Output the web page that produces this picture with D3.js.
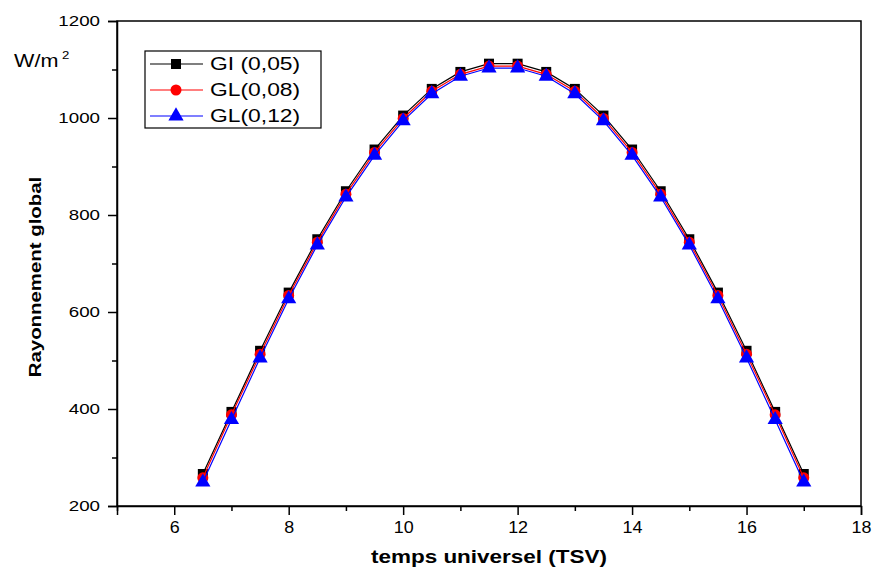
<!DOCTYPE html>
<html>
<head>
<meta charset="utf-8">
<script src="https://cdn.jsdelivr.net/npm/d3@7"></script>
<style>
  body { margin: 0; background: #fff; }
  text { font-family: "Liberation Sans", Arial, sans-serif; fill: #000; }
</style>
</head>
<body>
<div id="chart"></div>
<script>
// Rayonnement global vs temps (TSV) for three turbidity values

const hours = [6.5, 7, 7.5, 8, 8.5, 9, 9.5, 10, 10.5, 11, 11.5, 12, 12.5, 13, 13.5, 14, 14.5, 15, 15.5, 16, 16.5, 17];
const gl005 = [266, 394, 520, 640, 750, 849, 935, 1005, 1060, 1095, 1112, 1112, 1095, 1060, 1005, 935, 849, 750, 640, 520, 394, 266];
const gl008 = [258, 388, 513, 634, 744, 843, 929, 999, 1055, 1090, 1107, 1107, 1090, 1055, 999, 929, 843, 744, 634, 513, 388, 258];
const gl012 = [249, 378, 505, 627, 738, 837, 923, 994, 1050, 1086, 1103, 1103, 1086, 1050, 994, 923, 837, 738, 627, 505, 378, 249];
const seriesNames = ["GI (0,05)", "GL(0,08)", "GL(0,12)"];
const xTicks = [6, 8, 10, 12, 14, 16, 18];
const xMinor = [5, 7, 9, 11, 13, 15, 17];
const yTicks = [200, 400, 600, 800, 1000, 1200];
const yMinor = [300, 500, 700, 900, 1100];

const W = 872, H = 572;
const margin = { top: 21, right: 11, bottom: 66, left: 117 };
const width = W - margin.left - margin.right;
const height = H - margin.top - margin.bottom;

const svg = d3.select("#chart").append("svg")
    .attr("width", W)
    .attr("height", H);

const g = svg.append("g")
    .attr("transform", `translate(${margin.left},${margin.top})`);

const x = d3.scaleLinear().domain([5, 18]).range([0, width]);
const y = d3.scaleLinear().domain([200, 1200]).range([height, 0]);

// stretch text horizontally like the original export
function stretch(sel, sx) {
    sel.each(function () {
        const t = d3.select(this);
        const tx = +t.attr("x") || 0;
        t.attr("x", tx / sx).attr("transform", `scale(${sx},1)`);
    });
}

// frame
g.append("rect")
    .attr("width", width)
    .attr("height", height)
    .attr("fill", "none")
    .attr("stroke", "#000")
    .attr("stroke-width", 1.5);

// x axis
const xAxis = g.append("g")
    .attr("transform", `translate(0,${height})`)
    .call(d3.axisBottom(x).tickValues(xTicks).tickSize(9).tickPadding(7).tickFormat(d3.format("d")));
g.append("g")
    .attr("transform", `translate(0,${height})`)
    .call(d3.axisBottom(x).tickValues(xMinor).tickSize(5).tickFormat(""))
    .call(a => a.select(".domain").remove());

// y axis
const yAxis = g.append("g")
    .call(d3.axisLeft(y).tickValues(yTicks).tickSize(9).tickPadding(8).tickFormat(d3.format("d")));
g.append("g")
    .call(d3.axisLeft(y).tickValues(yMinor).tickSize(5).tickFormat(""))
    .call(a => a.select(".domain").remove());

g.selectAll(".domain, .tick line").attr("stroke", "#000").attr("stroke-width", 1.5);

xAxis.selectAll("text")
    .style("font-size", "16px")
    .style("font-family", "Liberation Sans, Arial, sans-serif");
stretch(xAxis.selectAll("text"), 1.12);

yAxis.selectAll("text")
    .style("font-size", "15px")
    .style("font-family", "Liberation Sans, Arial, sans-serif");
stretch(yAxis.selectAll("text"), 1.25);

// series
const series = [
    { name: seriesNames[0], values: gl005, color: "#000", symbol: d3.symbolSquare, size: 100 },
    { name: seriesNames[1], values: gl008, color: "#ff0000", symbol: d3.symbolCircle, size: 95 },
    { name: seriesNames[2], values: gl012, color: "#0000ff", symbol: d3.symbolTriangle, size: 100 }
];

const line = d3.line()
    .x(d => x(d[0]))
    .y(d => y(d[1]));

series.forEach(s => {
    const pts = hours.map((h, i) => [h, s.values[i]]);
    g.append("path")
        .datum(pts)
        .attr("fill", "none")
        .attr("stroke", s.color)
        .attr("stroke-width", 1.2)
        .attr("d", line);
    g.selectAll(null)
        .data(pts)
        .join("path")
        .attr("transform", d => `translate(${x(d[0])},${y(d[1])})`)
        .attr("d", d3.symbol().type(s.symbol).size(s.size))
        .attr("fill", s.color);
});

// legend
const legend = svg.append("g").attr("transform", "translate(145,51)");
legend.append("rect")
    .attr("width", 176)
    .attr("height", 77)
    .attr("fill", "#fff")
    .attr("stroke", "#000")
    .attr("stroke-width", 1.2);

series.forEach((s, i) => {
    const ly = 13 + i * 26;
    const row = legend.append("g").attr("transform", `translate(0,${ly})`);
    row.append("line")
        .attr("x1", 5).attr("x2", 58)
        .attr("stroke", s.color).attr("stroke-width", 1.2);
    row.append("path")
        .attr("transform", "translate(31,0)")
        .attr("d", d3.symbol().type(s.symbol).size(s.size))
        .attr("fill", s.color);
    const t = row.append("text")
        .attr("x", 65)
        .attr("dy", "0.35em")
        .style("font-size", "18px")
        .text(s.name);
    stretch(t, 1.27);
});

// axis titles
svg.append("text")
    .attr("transform", "translate(489,563) scale(1.25,1)")
    .attr("text-anchor", "middle")
    .style("font-size", "18px")
    .style("font-weight", "bold")
    .text("temps universel (TSV)");

svg.append("text")
    .attr("transform", "translate(41,277) rotate(-90) scale(1.2,1)")
    .attr("text-anchor", "middle")
    .style("font-size", "17px")
    .style("font-weight", "bold")
    .text("Rayonnement global");

// unit label
const unit = svg.append("text")
    .attr("transform", "translate(14,67) scale(1.2,1)")
    .style("font-size", "18px");
unit.append("tspan").text("W/m");
unit.append("tspan")
    .attr("dx", 3)
    .attr("dy", -8)
    .style("font-size", "11px")
    .text("2");
</script>
</body>
</html>
